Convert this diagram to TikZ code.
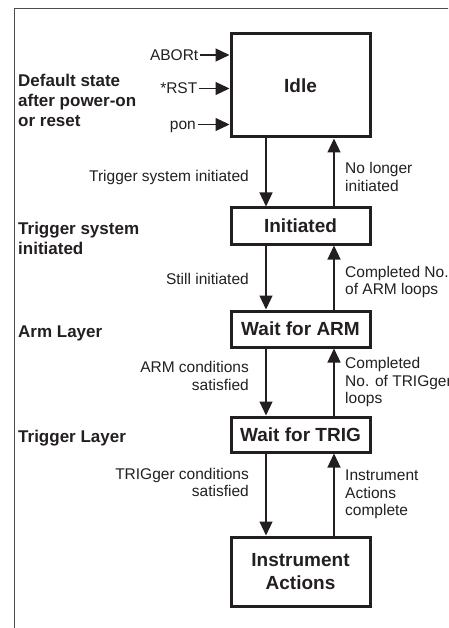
\documentclass[tikz,border=0pt]{standalone}
\usepackage{fontspec}
\setmainfont{Liberation Sans}
\usetikzlibrary{arrows.meta}
\definecolor{ink}{HTML}{231F20}
\begin{document}
\begin{tikzpicture}[x=1pt,y=-1pt,
  state/.style={draw=ink, text=ink, line width=3pt, minimum width=139pt, align=center,
    font=\fontsize{19}{23}\selectfont\bfseries, inner sep=0pt},
  lbl/.style={text=ink, font=\fontsize{15.5}{17.5}\selectfont, inner sep=0pt},
  lblr/.style={lbl, align=right, anchor=base east},
  lbll/.style={lbl, align=left, anchor=base west},
  side/.style={text=ink, font=\fontsize{17}{20}\selectfont\bfseries, inner sep=0pt, align=left, anchor=base west},
  inp/.style={lbl, anchor=base east, text height=11pt, text depth=0pt, inner xsep=1.5pt},
  arr/.style={draw=ink, line width=1.2pt, -{Triangle[length=14pt,width=13pt]}}]
\useasboundingbox (0,0) rectangle (448,628);
\clip (0,0) rectangle (448,628);
% frame
\draw[draw=black!70, line width=1pt] (14,700) -- (14,9) -- (500,9);
% states
\node[state, minimum height=103pt] (idle) at (300.5,85.5) {Idle};
\node[state, minimum height=36pt] (init) at (300.5,226) {Initiated};
\node[state, minimum height=36pt] (warm) at (300.5,329) {Wait for ARM};
\node[state, minimum height=35pt] (wtrig) at (300.5,434.5) {Wait for TRIG};
\node[state, minimum height=69pt] (inst) at (300.5,571.5) {Instrument\\Actions};
% inputs
\node[inp] (abort) at (200,60.5) {ABORt};
\node[inp] (rst) at (199,94) {*RST};
\node[inp] (pon) at (197.5,130) {pon};
\draw[arr] (abort.east) -- (abort.east -| idle.west);
\draw[arr] (rst.east) -- (rst.east -| idle.west);
\draw[arr] (pon.east) -- (pon.east -| idle.west);
% side labels (anchored at the baseline of the last line)
\node[side] (s1) at (18,127) {Default state\\after power-on\\or reset};
\node[side] (s2) at (18,254) {Trigger system\\initiated};
\node[side] (s3) at (18,337) {Arm Layer};
\node[side] (s4) at (18,442) {Trigger Layer};
% transitions
\draw[arr] ([xshift=-34.5pt]idle.south) -- ([xshift=-34.5pt]init.north);
\draw[arr] ([xshift=33.5pt]init.north) -- ([xshift=33.5pt]idle.south);
\draw[arr] ([xshift=-34.5pt]init.south) -- ([xshift=-34.5pt]warm.north);
\draw[arr] ([xshift=33.5pt]warm.north) -- ([xshift=33.5pt]init.south);
\draw[arr] ([xshift=-34.5pt]warm.south) -- ([xshift=-34.5pt]wtrig.north);
\draw[arr] ([xshift=33.5pt]wtrig.north) -- ([xshift=33.5pt]warm.south);
\draw[arr] ([xshift=-34.5pt]wtrig.south) -- ([xshift=-34.5pt]inst.north);
\draw[arr] ([xshift=33.5pt]inst.north) -- ([xshift=33.5pt]wtrig.south);
% transition labels (anchored at the baseline of the last line)
\node[lblr] (t1) at (249,182) {Trigger system initiated};
\node[lbll] (t2) at (345,191.5) {No longer\\initiated};
\node[lblr] (t3) at (249,284) {Still initiated};
\node[lbll] (t4) at (345,294.5) {Completed No.\\of ARM loops};
\node[lblr] (t5) at (249,390) {ARM conditions\\satisfied};
\node[lbll] (t6) at (345,403.5) {Completed\\No. of TRIGger\\loops};
\node[lblr] (t7) at (249,496.5) {TRIGger conditions\\satisfied};
\node[lbll] (t8) at (345,515.5) {Instrument\\Actions\\complete};
\end{tikzpicture}
\end{document}
